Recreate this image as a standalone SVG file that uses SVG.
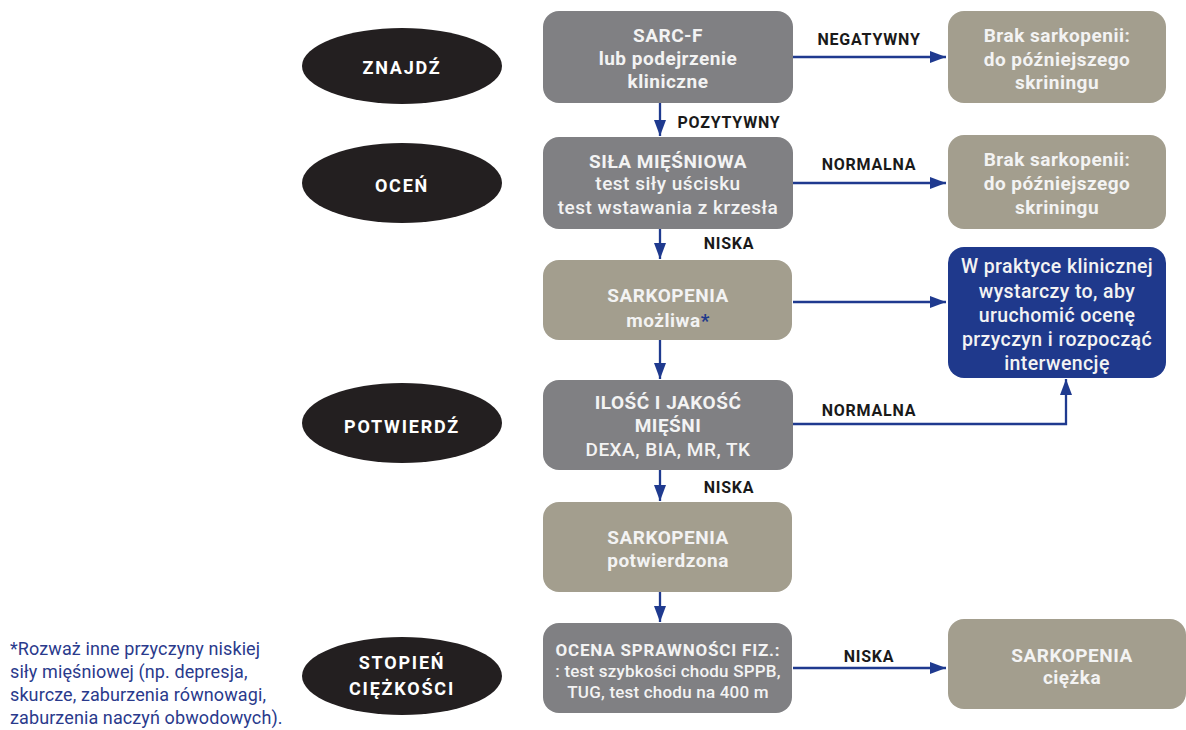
<svg xmlns="http://www.w3.org/2000/svg" width="1186" height="730" viewBox="0 0 1186 730">
<defs>
<marker id="ah" viewBox="0 0 16 12" refX="16" refY="6" markerWidth="16" markerHeight="12" markerUnits="userSpaceOnUse" orient="auto"><path d="M0,0 L16,6 L0,12 z" fill="#1f3a8f"/></marker>
<style>
.gray{fill:#808083}
.beige{fill:#a39e8e}
.blue{fill:#1f398c}
.ell{fill:#231f20}
text{font-family:Roboto,"Liberation Sans",sans-serif;text-anchor:middle}
.t{fill:#f3f3f3;font-size:19px;font-weight:bold;letter-spacing:0.5px}
.m{fill:#f3f3f3;font-size:19px;font-weight:500;letter-spacing:0.5px}
.b{fill:#f3f3f3;font-size:19.5px;font-weight:500;letter-spacing:0.4px}
.s{fill:#f3f3f3;font-size:17px;font-weight:bold;letter-spacing:0.8px}
.sm{fill:#f3f3f3;font-size:17px;font-weight:500;letter-spacing:0.2px}
.e{fill:#ffffff;font-size:18px;font-weight:bold;letter-spacing:1.8px}
.lbl{fill:#1a1a1a;font-size:16px;font-weight:bold;letter-spacing:0.8px}
.fn{fill:#2a3a8c;font-size:18px;text-anchor:start;letter-spacing:0.1px}
.c{fill:none;stroke:#1f3a8f;stroke-width:2.3}
</style>
</defs>
<g id="connectors">
<path class="c" d="M793,57 H946" marker-end="url(#ah)"/>
<path class="c" d="M660,103 V136" marker-end="url(#ah)"/>
<path class="c" d="M793,183 H946" marker-end="url(#ah)"/>
<path class="c" d="M660,229 V259" marker-end="url(#ah)"/>
<path class="c" d="M793,302 H946" marker-end="url(#ah)"/>
<path class="c" d="M660,340 V379" marker-end="url(#ah)"/>
<path class="c" d="M793,424 H1066 V379" marker-end="url(#ah)"/>
<path class="c" d="M660,470 V501" marker-end="url(#ah)"/>
<path class="c" d="M660,592 V622" marker-end="url(#ah)"/>
<path class="c" d="M793,668 H946" marker-end="url(#ah)"/>
<text class="lbl" x="869" y="45">NEGATYWNY</text>
<text class="lbl" x="729" y="128">POZYTYWNY</text>
<text class="lbl" x="869" y="170">NORMALNA</text>
<text class="lbl" x="729" y="249">NISKA</text>
<text class="lbl" x="869" y="416">NORMALNA</text>
<text class="lbl" x="729" y="493">NISKA</text>
<text class="lbl" x="869" y="662">NISKA</text>
</g>
<g id="znajdz"><ellipse class="ell" cx="402" cy="66" rx="100" ry="38"/><text class="e" x="402" y="74">ZNAJDŹ</text></g>
<g id="ocen"><ellipse class="ell" cx="402" cy="183" rx="100" ry="40"/><text class="e" x="402" y="192">OCEŃ</text></g>
<g id="potwierdz"><ellipse class="ell" cx="402" cy="423" rx="100" ry="40"/><text class="e" x="402" y="433">POTWIERDŹ</text></g>
<g id="stopien"><ellipse class="ell" cx="402" cy="676" rx="100" ry="39"/><text class="e" x="402" y="669">STOPIEŃ</text><text class="e" x="402" y="695">CIĘŻKOŚCI</text></g>
<g id="sarcf"><rect class="gray" x="543" y="11" width="250" height="92" rx="16"/><text class="t" x="668" y="42">SARC-F</text><text class="t" x="668" y="65">lub podejrzenie</text><text class="t" x="668" y="88">kliniczne</text></g>
<g id="sila"><rect class="gray" x="543" y="137" width="250" height="92" rx="16"/><text class="t" x="668" y="168">SIŁA MIĘŚNIOWA</text><text class="m" x="668" y="190">test siły uścisku</text><text class="m" x="668" y="214">test wstawania z krzesła</text></g>
<g id="mozliwa"><rect class="beige" x="543" y="260" width="249" height="80" rx="16"/><text class="t" x="668" y="302">SARKOPENIA</text><text class="t" x="668" y="327">możliwa<tspan fill="#1f398c">*</tspan></text></g>
<g id="ilosc"><rect class="gray" x="543" y="380" width="250" height="90" rx="16"/><text class="t" x="668" y="409">ILOŚĆ I JAKOŚĆ</text><text class="t" x="668" y="432">MIĘŚNI</text><text class="m" x="668" y="456">DEXA, BIA, MR, TK</text></g>
<g id="potwierdzona"><rect class="beige" x="543" y="502" width="249" height="90" rx="16"/><text class="t" x="668" y="544">SARKOPENIA</text><text class="t" x="668" y="567">potwierdzona</text></g>
<g id="ocena"><rect class="gray" x="543" y="623" width="249" height="90" rx="16"/><text class="s" x="668" y="656">OCENA SPRAWNOŚCI FIZ.:</text><text class="sm" x="668" y="677">: test szybkości chodu SPPB,</text><text class="sm" x="668" y="698">TUG, test chodu na 400 m</text></g>
<g id="brak1"><rect class="beige" x="948" y="11" width="218" height="92" rx="16"/><text class="t" x="1057" y="42">Brak sarkopenii:</text><text class="t" x="1057" y="66">do późniejszego</text><text class="t" x="1057" y="89">skriningu</text></g>
<g id="brak2"><rect class="beige" x="948" y="135" width="218" height="94" rx="16"/><text class="t" x="1057" y="166">Brak sarkopenii:</text><text class="t" x="1057" y="190">do późniejszego</text><text class="t" x="1057" y="214">skriningu</text></g>
<g id="praktyka"><rect class="blue" x="948" y="247" width="218" height="131" rx="16"/><text class="b" x="1057" y="273">W praktyce klinicznej</text><text class="b" x="1057" y="298">wystarczy to, aby</text><text class="b" x="1057" y="322">uruchomić ocenę</text><text class="b" x="1057" y="346">przyczyn i rozpocząć</text><text class="b" x="1057" y="370">interwencję</text></g>
<g id="ciezka"><rect class="beige" x="948" y="619" width="238" height="90" rx="16"/><text class="t" x="1072" y="662">SARKOPENIA</text><text class="t" x="1072" y="684">ciężka</text></g>
<g id="footnote"><text class="fn" x="10" y="655">*Rozważ inne przyczyny niskiej</text><text class="fn" x="10" y="678">siły mięśniowej (np. depresja,</text><text class="fn" x="10" y="701">skurcze, zaburzenia równowagi,</text><text class="fn" x="10" y="724">zaburzenia naczyń obwodowych).</text></g>
</svg>
